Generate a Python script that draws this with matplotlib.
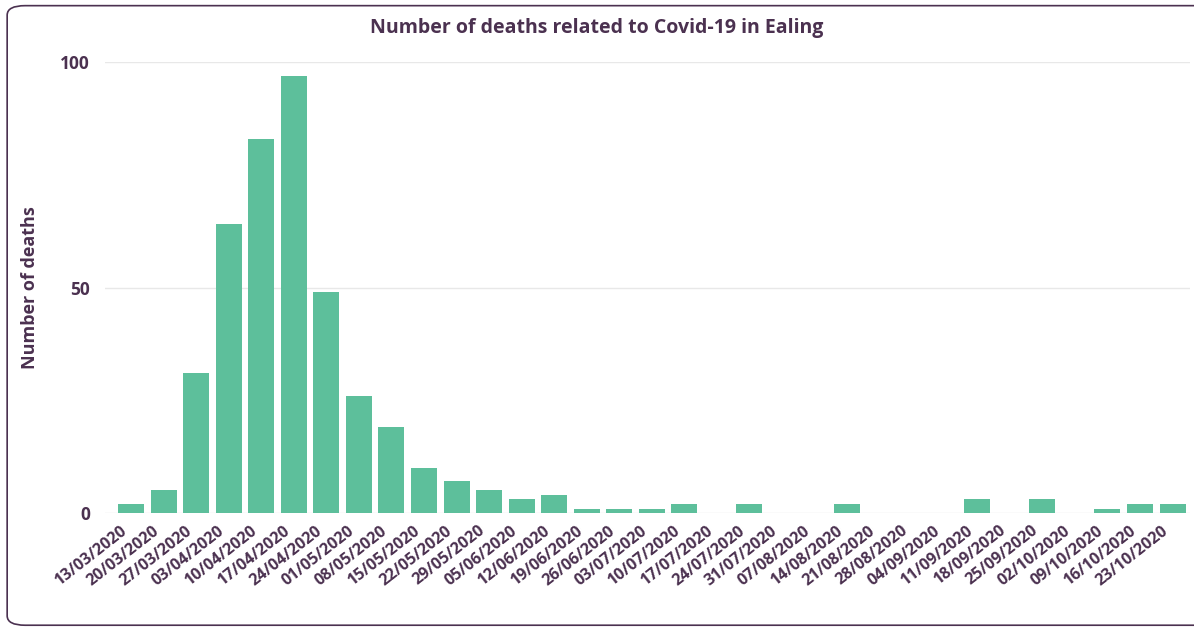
import matplotlib.pyplot as plt
import matplotlib.transforms as mtransforms
from matplotlib.patches import FancyBboxPatch

# weekly deaths
week_labels = ["13/03/2020", "20/03/2020", "27/03/2020", "03/04/2020", "10/04/2020",
               "17/04/2020", "24/04/2020", "01/05/2020", "08/05/2020", "15/05/2020",
               "22/05/2020", "29/05/2020", "05/06/2020", "12/06/2020", "19/06/2020",
               "26/06/2020", "03/07/2020", "10/07/2020", "17/07/2020", "24/07/2020",
               "31/07/2020", "07/08/2020", "14/08/2020", "21/08/2020", "28/08/2020",
               "04/09/2020", "11/09/2020", "18/09/2020", "25/09/2020", "02/10/2020",
               "09/10/2020", "16/10/2020", "23/10/2020"]
deaths = [2, 5, 31, 64, 83, 97, 49, 26, 19, 10, 7, 5, 3, 4, 1, 1, 1, 2, 0, 2,
          0, 0, 2, 0, 0, 0, 3, 0, 3, 0, 1, 2, 2]
y_ticks = [0, 50, 100]

bar_col = "#5DBF9B"
txt_col = "#4B3150"

plt.rcParams['font.family'] = ['Open Sans', 'DejaVu Sans']

fig = plt.figure(figsize=(11.94, 6.29), dpi=100)

# rounded frame around the visual
frame = FancyBboxPatch((0.006, 0.006), 1.05, 0.985, boxstyle="round,pad=0,rounding_size=0.015",
                       transform=fig.transFigure, facecolor="white", edgecolor=txt_col,
                       linewidth=1.2, zorder=-1)
fig.patches.append(frame)

ax = fig.add_axes([0.088, 0.1844, 0.909, 0.717])
x = list(range(len(deaths)))
ax.bar(x, deaths, width=0.8, color=bar_col, zorder=3)

ax.set_xlim(-0.8, 32.55)
ax.set_ylim(0, 100)
ax.set_yticks(y_ticks)
ax.set_yticklabels([str(v) for v in y_ticks], fontsize=12.5, fontweight='bold', color=txt_col)
ax.set_xticks(x)
ax.set_xticklabels([])

# rotated date labels, slightly left of and below each bar centre
shift = mtransforms.ScaledTranslation(-8 / 72, -7 / 72, fig.dpi_scale_trans)
lab_tr = ax.get_xaxis_transform() + shift
for xi, lab in zip(x, week_labels):
    ax.text(xi, 0, lab, transform=lab_tr, rotation=38, ha='right', va='top',
            rotation_mode='anchor', fontsize=11.5, fontweight='bold', color=txt_col)

ax.tick_params(axis='both', length=0)
ax.tick_params(axis='y', pad=11)
ax.grid(axis='y', color="#E8E8E8", linewidth=1, zorder=0)
ax.set_axisbelow(True)
for s in ax.spines.values():
    s.set_visible(False)
ax.set_facecolor('none')

ax.set_ylabel("Number of deaths", fontsize=13, fontweight='bold', color=txt_col, labelpad=15)
fig.text(0.5, 0.955, "Number of deaths related to Covid-19 in Ealing", ha='center', va='center',
         fontsize=14, fontweight='bold', color=txt_col)

fig.savefig("out.png", dpi=100)
